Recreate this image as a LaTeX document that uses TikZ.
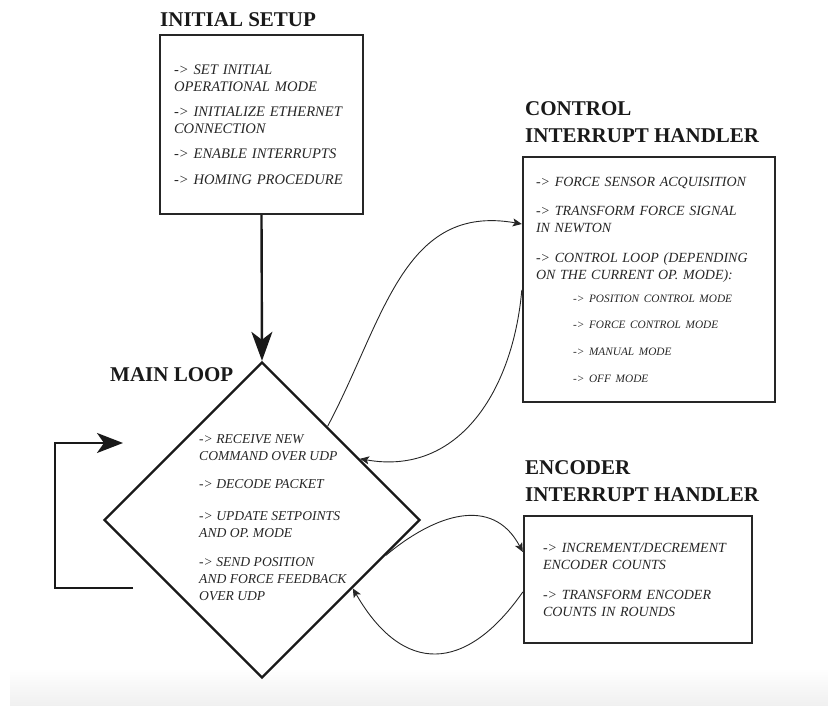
\documentclass[tikz,border=0pt]{standalone}
\usepackage{fontspec}
\setmainfont{Liberation Serif}
\usetikzlibrary{shapes.geometric,arrows.meta,positioning}
\hyphenpenalty=10000

\newcommand{\titlesize}{\fontsize{21}{27}\selectfont\bfseries}
\newcommand{\itemsize}{\fontsize{14}{17}\selectfont\itshape}
\newcommand{\setupsize}{\fontsize{14.6}{17}\selectfont\itshape}
\newcommand{\subsize}{\fontsize{11.3}{17}\selectfont\itshape}

\tikzstyle{taskbox} = [draw=black!85, line width=2.4pt, rectangle,
    inner ysep=0pt, align=left, text=black!85, font=\itemsize]
\tikzstyle{boxtitle} = [font=\titlesize, align=left, inner sep=0pt,
    text=black!90, anchor=south west]
\tikzstyle{mainflow} = [draw=black!90, line width=2.4pt,
    -{Stealth[length=29pt,width=21pt,inset=8pt]}]
\tikzstyle{irqflow} = [draw=black!85, line width=0.9pt,
    -{Stealth[length=9pt,width=8pt,inset=2pt]}]

\begin{document}
\begin{tikzpicture}[x=1pt,y=1pt]
\useasboundingbox (0,0) rectangle (828,706);
\shade[top color=white, bottom color=black!6] (10,0) rectangle (828,38);

% boxes
\node [taskbox, minimum width=203pt, minimum height=179pt, inner xsep=14pt,
    text width=175pt, font=\setupsize] (setup) at (261.5,581.5) {%
    -> SET INITIAL\\OPERATIONAL MODE\\[8pt]
    -> INITIALIZE ETHERNET\\CONNECTION\\[8pt]
    -> ENABLE INTERRUPTS\\[9pt]
    -> HOMING PROCEDURE};
\node [taskbox, minimum width=252pt, minimum height=245pt, inner xsep=13pt,
    text width=226pt] (control) at (649,426.5) {%
    -> FORCE SENSOR ACQUISITION\\[12pt]
    -> TRANSFORM FORCE SIGNAL\\IN NEWTON\\[13pt]
    -> CONTROL LOOP (DEPENDING\\ON THE CURRENT OP. MODE):\\[6pt]
    \hspace*{37pt}{\subsize -> POSITION CONTROL MODE}\\[9.5pt]
    \hspace*{37pt}{\subsize -> FORCE CONTROL MODE}\\[9.5pt]
    \hspace*{37pt}{\subsize -> MANUAL MODE}\\[10pt]
    \hspace*{37pt}{\subsize -> OFF MODE}};
\node [taskbox, minimum width=228pt, minimum height=127pt, inner xsep=19pt,
    text width=190pt] (encoder) at (638,126.5) {%
    -> INCREMENT/DECREMENT\\ENCODER COUNTS\\[13pt]
    -> TRANSFORM ENCODER\\COUNTS IN ROUNDS};

\node [diamond, draw=black!90, line width=2.4pt, minimum width=316pt,
    minimum height=316pt, inner sep=0pt] (loop) at (262,186) {};
\node [align=left, anchor=west, inner sep=0pt, text=black!85,
    font=\fontsize{13.6}{17}\selectfont\itshape] (looptext) at (199,188) {%
    -> RECEIVE NEW\\COMMAND OVER UDP\\[11pt]
    -> DECODE PACKET\\[15pt]
    -> UPDATE SETPOINTS\\AND OP. MODE\\[12pt]
    -> SEND POSITION\\AND FORCE FEEDBACK\\OVER UDP};

% titles
\node [boxtitle] (setuptitle) at (160,679) {INITIAL SETUP};
\node [boxtitle] (looptitle) at (110,324) {MAIN LOOP};
\node [boxtitle] (controltitle) at (525,563) {CONTROL\\INTERRUPT HANDLER};
\node [boxtitle] (encodertitle) at (525,204) {ENCODER\\INTERRUPT HANDLER};

% main flow
\draw [mainflow] (setup.south) -- (loop.north);
\coordinate (loopout) at (133,118);
\coordinate (loopin) at (123,263);
\draw [mainflow, -{Stealth[length=26pt,width=20pt,inset=7pt]}]
    (loopout) -- ++(-78,0) |- (loopin);

% interrupts
\draw [irqflow] (loop.55) to[out=62, in=170, looseness=1.1] ([yshift=55.5pt]control.west);
\draw [irqflow] ([yshift=-10.5pt]control.west) to[out=-95, in=-10, looseness=1.1] (loop.32);
\draw [irqflow] (loop.-16) to[out=40, in=118, looseness=1.2] ([yshift=27.5pt]encoder.west);
\draw [irqflow] ([yshift=-12.5pt]encoder.west) to[out=-125, in=-60, looseness=1.5] (loop.-37);
\end{tikzpicture}
\end{document}
